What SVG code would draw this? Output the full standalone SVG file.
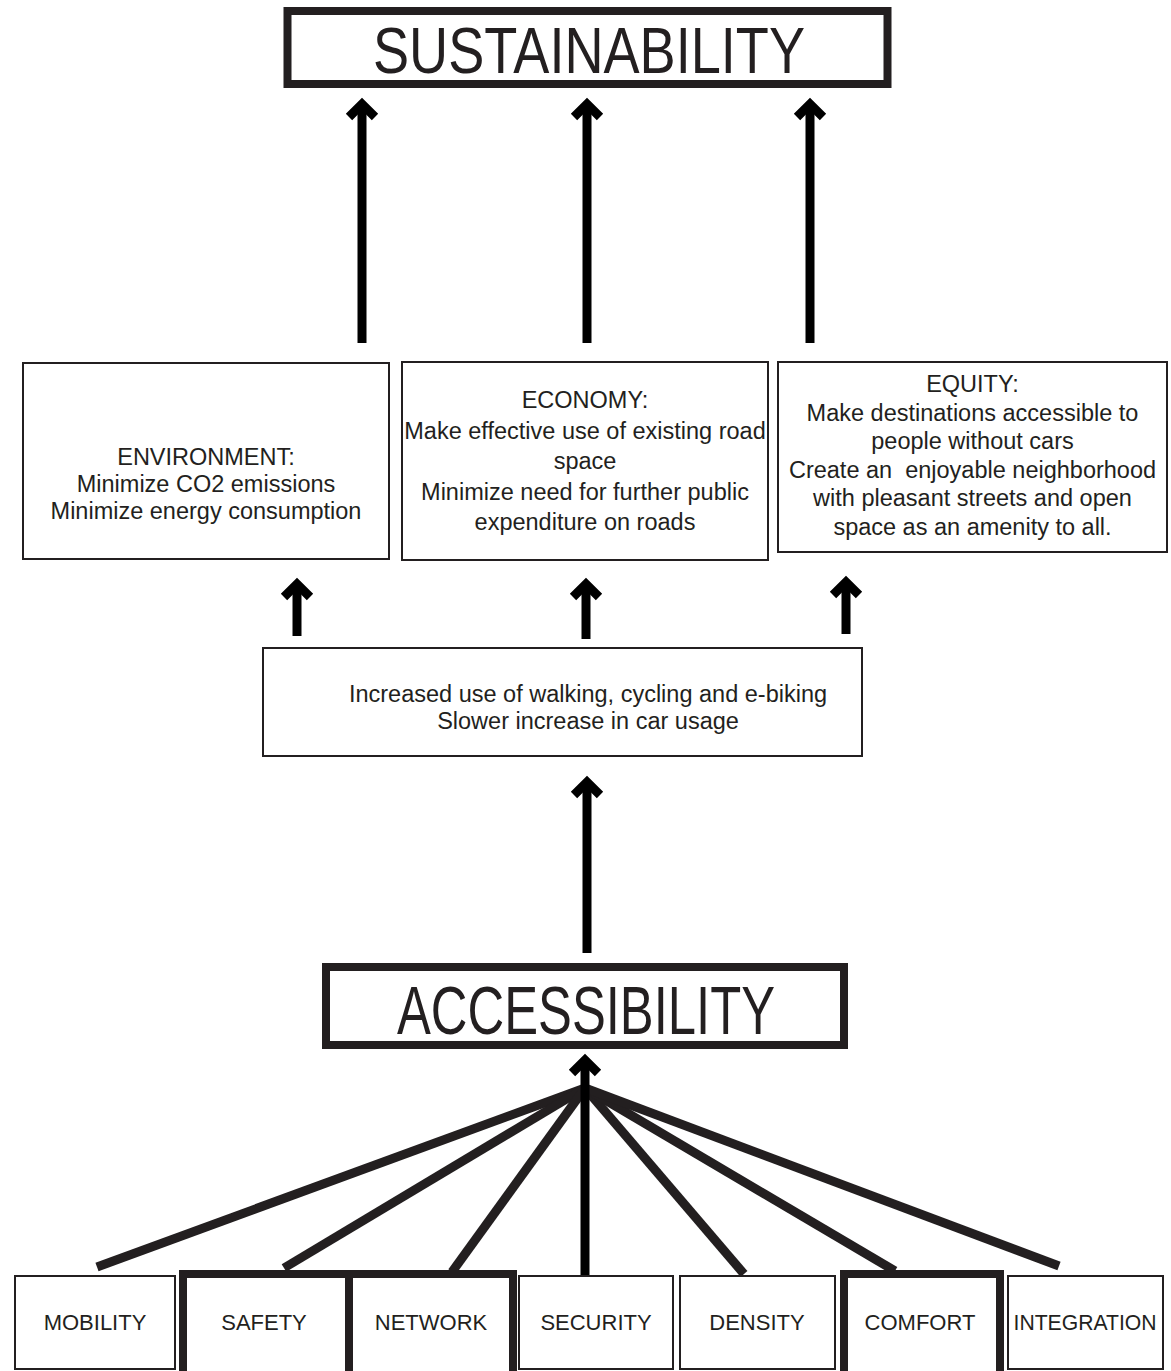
<svg xmlns="http://www.w3.org/2000/svg" width="1171" height="1371" viewBox="0 0 1171 1371">
<style>
.box{fill:#fff;stroke:#231f20;stroke-width:2}
.thick{fill:#fff;stroke:#231f20;stroke-width:8}
.t{font-family:"Liberation Sans",Arial,sans-serif;fill:#231f20;text-anchor:middle}
.body{font-size:23.5px}
.lab{font-size:22px}
.arrow{stroke:#000;stroke-width:9;fill:none;marker-end:url(#head)}
.fan{stroke:#231f20;stroke-width:9;fill:none}
</style>
<defs>
<marker id="head" markerUnits="userSpaceOnUse" viewBox="-20 -20 40 40" markerWidth="40" markerHeight="40" refX="0" refY="0" orient="auto" overflow="visible">
<path d="M-13,-13 L0,0 L-13,13" fill="none" stroke="#000" stroke-width="9"/>
</marker>
</defs>
<rect width="1171" height="1371" fill="#fff"/>

<g id="connectors">
<path class="arrow" d="M362,343 V104"/>
<path class="arrow" d="M587,343 V104"/>
<path class="arrow" d="M810,343 V104"/>
<path class="arrow" d="M297,636 V584"/>
<path class="arrow" d="M586,639 V584"/>
<path class="arrow" d="M846,634 V582"/>
<path class="arrow" d="M587,953 V782"/>
<path class="fan" d="M97,1267 L585,1088"/>
<path class="fan" d="M284,1268 L585,1088"/>
<path class="fan" d="M452,1272 L585,1088"/>
<path class="fan" d="M744,1274 L585,1088"/>
<path class="fan" d="M895,1271 L585,1088"/>
<path class="fan" d="M1059,1266 L585,1088"/>
<path class="arrow" d="M585,1276 V1060"/>
</g>

<g id="sustainability">
<rect class="thick" x="287.5" y="11" width="600" height="73"/>
<text class="t" x="589" y="73" font-size="64" textLength="432" lengthAdjust="spacingAndGlyphs">SUSTAINABILITY</text>
</g>

<g id="environment">
<rect class="box" x="23" y="363" width="366" height="196"/>
<text class="t body" x="206" y="465">ENVIRONMENT:</text>
<text class="t body" x="206" y="492">Minimize CO2 emissions</text>
<text class="t body" x="206" y="519">Minimize energy consumption</text>
</g>

<g id="economy">
<rect class="box" x="402" y="362" width="366" height="198"/>
<text class="t body" x="585" y="408">ECONOMY:</text>
<text class="t body" x="585" y="438.5">Make effective use of existing road</text>
<text class="t body" x="585" y="469">space</text>
<text class="t body" x="585" y="499.5">Minimize need for further public</text>
<text class="t body" x="585" y="530">expenditure on roads</text>
</g>

<g id="equity">
<rect class="box" x="778" y="362" width="389" height="190"/>
<text class="t body" x="972.5" y="392">EQUITY:</text>
<text class="t body" x="972.5" y="420.6">Make destinations accessible to</text>
<text class="t body" x="972.5" y="449">people without cars</text>
<text class="t body" x="972.5" y="478" xml:space="preserve">Create an  enjoyable neighborhood</text>
<text class="t body" x="972.5" y="506">with pleasant streets and open</text>
<text class="t body" x="972.5" y="535">space as an amenity to all.</text>
</g>

<g id="mode-shift">
<rect class="box" x="263" y="648" width="599" height="108"/>
<text class="t body" x="588" y="702">Increased use of walking, cycling and e-biking</text>
<text class="t body" x="588" y="729">Slower increase in car usage</text>
</g>

<g id="accessibility">
<rect class="thick" x="326" y="967" width="518" height="78"/>
<text class="t" x="586" y="1034" font-size="68" textLength="378" lengthAdjust="spacingAndGlyphs">ACCESSIBILITY</text>
</g>

<g id="mobility">
<rect class="box" x="15" y="1276" width="160" height="93"/>
<text class="t lab" x="95" y="1330">MOBILITY</text>
</g>
<g id="safety">
<rect class="thick" x="183" y="1274" width="166" height="110"/>
<text class="t lab" x="264" y="1330">SAFETY</text>
</g>
<g id="network">
<rect class="thick" x="349" y="1274" width="164" height="110"/>
<text class="t lab" x="431" y="1330">NETWORK</text>
</g>
<g id="security">
<rect class="box" x="519" y="1276" width="154" height="93"/>
<text class="t lab" x="596" y="1330">SECURITY</text>
</g>
<g id="density">
<rect class="box" x="680" y="1276" width="155" height="93"/>
<text class="t lab" x="757" y="1330">DENSITY</text>
</g>
<g id="comfort">
<rect class="thick" x="844" y="1274" width="156" height="110"/>
<text class="t lab" x="920" y="1330">COMFORT</text>
</g>
<g id="integration">
<rect class="box" x="1008" y="1276" width="155" height="93"/>
<text class="t lab" x="1085" y="1330" textLength="143" lengthAdjust="spacingAndGlyphs">INTEGRATION</text>
</g>
</svg>
